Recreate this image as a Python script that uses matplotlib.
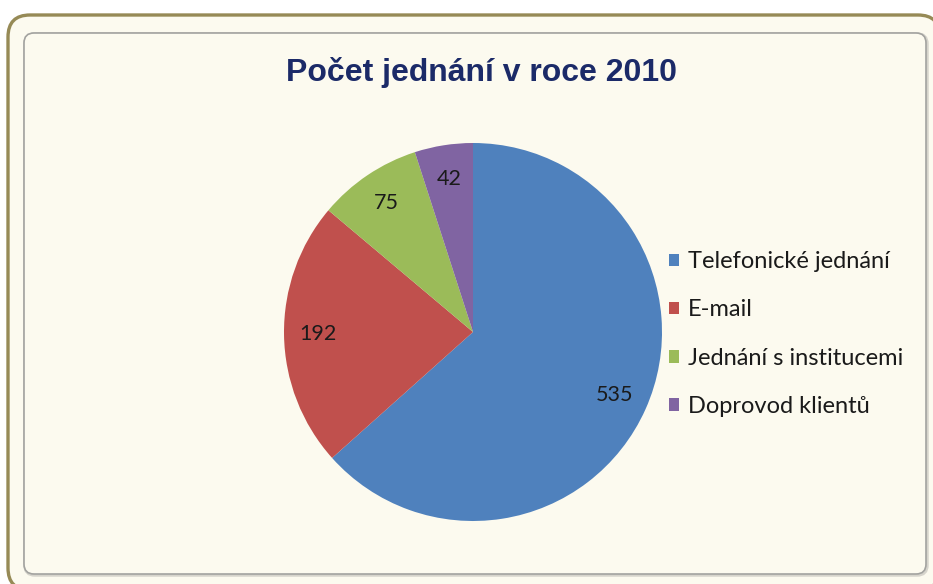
import matplotlib
matplotlib.use("Agg")
import matplotlib.pyplot as plt
from matplotlib.patches import FancyBboxPatch

# data
categories = ["Telefonické jednání", "E-mail", "Jednání s institucemi", "Doprovod klientů"]
counts = [535, 192, 75, 42]
colors = ["#4f81bd", "#c0504d", "#9bbb59", "#8064a2"]
title = "Počet jednání v roce 2010"

W, H = 933, 584
fig = plt.figure(figsize=(W / 100, H / 100), dpi=100)
fig.patch.set_facecolor("white")

# background axes in pixel coordinates for the rounded frame
bg = fig.add_axes([0, 0, 1, 1])
bg.set_xlim(0, W)
bg.set_ylim(H, 0)
bg.axis("off")

outer = FancyBboxPatch((8 + 22, 15 + 22), 940 - 8 - 44, 590 - 15 - 44,
                       boxstyle="round,pad=22,rounding_size=22",
                       facecolor="#fcfaef", edgecolor="#968a56", linewidth=2.4)
bg.add_patch(outer)
# soft shadow of inner frame
shadow = FancyBboxPatch((25 + 10, 34 + 10), 927 - 25 - 20, 575 - 34 - 20,
                        boxstyle="round,pad=10,rounding_size=10",
                        facecolor="none", edgecolor="#d6d4cc", linewidth=2.5)
bg.add_patch(shadow)
inner = FancyBboxPatch((24 + 10, 33 + 10), 926 - 24 - 20, 574 - 33 - 20,
                       boxstyle="round,pad=10,rounding_size=10",
                       facecolor="#fcfaef", edgecolor="#a3a3a0", linewidth=1.2)
bg.add_patch(inner)

bg.text(481, 73, title, ha="center", va="center", fontsize=23,
        fontweight="bold", color="#1b2a68", family="Liberation Sans")

# pie
cx, cy, r = 473, 332, 189
ax = fig.add_axes([(cx - r) / W, (H - cy - r) / H, 2 * r / W, 2 * r / H])
wedges, texts, autotexts = ax.pie(
    counts, colors=colors, startangle=90, counterclock=False,
    radius=1, autopct=lambda p: f"{p * sum(counts) / 100:.0f}",
    pctdistance=0.82, wedgeprops=dict(linewidth=0),
    textprops=dict(fontsize=15.5, color="#1a1a1a", family="Lato"))
ax.set_xlim(-1, 1)
ax.set_ylim(-1, 1)
ax.set_aspect("equal")
ax.axis("off")

# legend
leg = fig.legend(wedges, categories, loc="center left",
                 bbox_to_anchor=(657 / W, 1 - 334 / H), frameon=False,
                 handlelength=0.45, handleheight=0.45, handletextpad=0.35,
                 labelspacing=1.15, borderpad=0,
                 prop=dict(family="Lato", size=17))
for t in leg.get_texts():
    t.set_color("#1a1a1a")

fig.savefig("out.png", dpi=100, facecolor="white")
